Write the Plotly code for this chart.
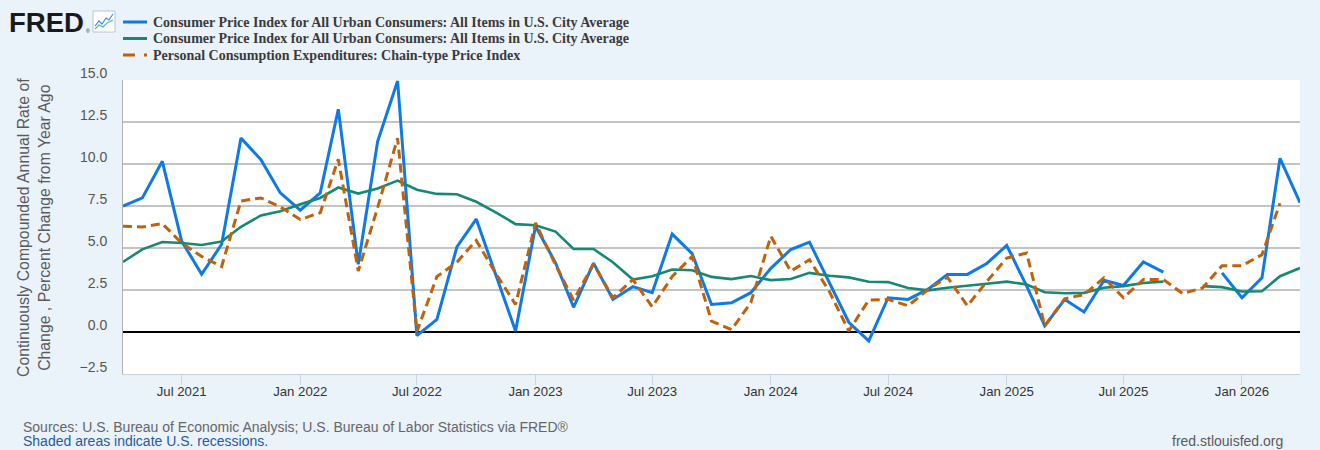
"""FRED-style chart: CPI monthly annualised change, CPI year-over-year, PCE price index."""

import pandas as pd
import plotly.graph_objects as go

W, H = 1320, 450
MARGIN = {"l": 123, "r": 20, "t": 80, "b": 76}

# monthly observations, Apr 2021 .. Apr 2026
months = pd.date_range("2021-04-01", periods=61, freq="MS")

# CPI-U, continuously compounded annual rate of change
cpi_cca = [
    7.49, 7.98, 10.16, 5.41, 3.44, 5.22, 11.54, 10.26, 8.28,
    7.25, 8.28, 13.26, 4.03, 11.34, 14.94, -0.22, 0.75, 5.06, 6.72, 3.40, 0.06,
    6.30, 4.12, 1.47, 4.10, 1.94, 2.70, 2.34, 5.83, 4.66, 1.64, 1.74, 2.34,
    3.79, 4.91, 5.35, 2.90, 0.58, -0.53, 2.04, 1.94, 2.55, 3.43, 3.43, 4.08,
    5.15, 2.73, 0.36, 1.94, 1.19, 3.08, 2.77, 4.17, 3.56, None, None, 3.52,
    2.04, 3.22, 10.34, 7.70,
]

# CPI-U, percent change from year ago
cpi_yoy = [
    4.17, 4.92, 5.36, 5.30, 5.18, 5.38, 6.26, 6.94, 7.19,
    7.61, 7.98, 8.60, 8.24, 8.54, 9.01, 8.47, 8.22, 8.20, 7.75, 7.11, 6.42,
    6.35, 5.98, 4.95, 4.94, 4.15, 3.12, 3.32, 3.72, 3.68, 3.28, 3.15, 3.33,
    3.09, 3.15, 3.52, 3.35, 3.25, 2.99, 2.97, 2.62, 2.48, 2.63, 2.73, 2.87,
    3.00, 2.83, 2.37, 2.31, 2.33, 2.63, 2.73, 2.92, 3.00, None, 2.73, 2.67,
    2.41, 2.43, 3.32, 3.81,
]

# PCE chain-type price index, continuously compounded annual rate of change
pce_cca = [
    6.30, 6.25, 6.45, 5.30, 4.50, 3.90, 7.80, 7.98, 7.45,
    6.70, 7.10, 10.28, 3.63, 7.40, 11.54, 0.02, 3.30, 4.15, 5.45, 3.45, 1.64,
    6.50, 4.00, 1.90, 4.05, 2.04, 3.12, 1.50, 3.30, 4.50, 0.65, 0.14, 1.74,
    5.70, 3.62, 4.30, 2.40, 0.06, 1.90, 1.94, 1.56, 2.53, 3.26, 1.56, 3.00,
    4.40, 4.70, 0.36, 1.98, 2.23, 3.22, 2.04, 3.12, 3.12, 2.29, 2.63, 3.95,
    3.95, 4.60, 7.67, None,
]

series_names = [
    "Consumer Price Index for All Urban Consumers: All Items in U.S. City Average",
    "Consumer Price Index for All Urban Consumers: All Items in U.S. City Average",
    "Personal Consumption Expenditures: Chain-type Price Index",
]

BLUE = "#0f7ae5"
GREEN = "#168874"
ORANGE = "#c0620c"
BG = "#eaf2fa"
GRID = "#c4c4c4"
PCE_DASH = "9px,5px"

plot_w = W - MARGIN["l"] - MARGIN["r"]
plot_h = H - MARGIN["t"] - MARGIN["b"]


def px(x):
    """Pixel column -> paper x."""
    return (x - MARGIN["l"]) / plot_w


def py(y):
    """Pixel row -> paper y."""
    return (H - MARGIN["b"] - y) / plot_h


fig = go.Figure()
fig.add_trace(go.Scatter(
    x=months, y=cpi_cca, mode="lines", name=series_names[0],
    line={"color": BLUE, "width": 3}, connectgaps=False,
))
fig.add_trace(go.Scatter(
    x=months, y=cpi_yoy, mode="lines", name=series_names[1],
    line={"color": GREEN, "width": 2.6}, connectgaps=False,
))
fig.add_trace(go.Scatter(
    x=months, y=pce_cca, mode="lines", name=series_names[2],
    line={"color": ORANGE, "width": 3, "dash": PCE_DASH}, connectgaps=False,
))

# hand-made legend (FRED places it beside the logo)
shapes = []
annotations = []
legend_rows = [22, 38.5, 55]
legend_styles = [
    {"color": BLUE, "width": 3},
    {"color": GREEN, "width": 3},
    {"color": ORANGE, "width": 3, "dash": "12px,9px"},
]
for name, row, style in zip(series_names, legend_rows, legend_styles):
    shapes.append(dict(
        type="line", xref="paper", yref="paper",
        x0=px(123), x1=px(147), y0=py(row), y1=py(row), line=style,
    ))
    annotations.append(dict(
        text=f"<b>{name}</b>", xref="paper", yref="paper",
        x=px(151), y=py(row), xanchor="left", yanchor="middle", showarrow=False,
        font={"family": "Liberation Serif", "size": 14, "color": "#3a3a3a"},
    ))

# FRED logo
annotations.append(dict(
    text="<b>FRED</b>", xref="paper", yref="paper",
    x=px(7), y=py(22), xanchor="left", yanchor="middle", showarrow=False,
    font={"family": "Liberation Sans", "size": 27.5, "color": "#1a1a1a"},
))
annotations.append(dict(
    text="®", xref="paper", yref="paper",
    x=px(84), y=py(31), xanchor="left", yanchor="middle", showarrow=False,
    font={"family": "Liberation Sans", "size": 5, "color": "#1a1a1a"},
))
shapes.append(dict(
    type="rect", xref="paper", yref="paper",
    x0=px(93), x1=px(115), y0=py(32), y1=py(11),
    line={"color": "#b9c6d3", "width": 1}, fillcolor="#ffffff",
))
shapes.append(dict(
    type="path", xref="paper", yref="paper",
    path=(f"M {px(95)} {py(26)} L {px(99)} {py(21)} L {px(102)} {py(24)} "
          f"L {px(106)} {py(18)} L {px(109)} {py(20)} L {px(113)} {py(14)}"),
    line={"color": "#3d8ee8", "width": 1.2},
))
shapes.append(dict(
    type="path", xref="paper", yref="paper",
    path=(f"M {px(95)} {py(29)} L {px(99)} {py(25)} L {px(103)} {py(27)} "
          f"L {px(107)} {py(23)} L {px(113)} {py(20)}"),
    line={"color": "#5cb8a6", "width": 1.2},
))

# y-axis title, two lines
annotations.append(dict(
    text="Continuously Compounded Annual Rate of<br>Change , Percent Change from Year Ago",
    xref="paper", yref="paper", x=px(34), y=py(228),
    xanchor="center", yanchor="middle", textangle=-90, showarrow=False,
    font={"family": "Liberation Sans", "size": 15.8, "color": "#5a5a5a"},
))

# footer
annotations.append(dict(
    text="Sources: U.S. Bureau of Economic Analysis; U.S. Bureau of Labor Statistics via FRED®",
    xref="paper", yref="paper", x=px(21), y=py(427),
    xanchor="left", yanchor="middle", showarrow=False,
    font={"family": "Liberation Sans", "size": 14, "color": "#666666"},
))
annotations.append(dict(
    text="Shaded areas indicate U.S. recessions.",
    xref="paper", yref="paper", x=px(21), y=py(441),
    xanchor="left", yanchor="middle", showarrow=False,
    font={"family": "Liberation Sans", "size": 14, "color": "#2a5a9a"},
))
annotations.append(dict(
    text="fred.stlouisfed.org",
    xref="paper", yref="paper", x=px(1285), y=py(441),
    xanchor="right", yanchor="middle", showarrow=False,
    font={"family": "Liberation Sans", "size": 14, "color": "#5a5a5a"},
))

fig.update_layout(
    width=W, height=H, margin=MARGIN,
    paper_bgcolor=BG, plot_bgcolor="#ffffff",
    showlegend=False,
    font={"family": "Liberation Sans", "size": 13, "color": "#333333"},
    shapes=shapes, annotations=annotations,
    hovermode=False,
)
fig.update_xaxes(
    type="date", range=["2021-04-01", "2026-04-01"],
    tick0="2021-07-01", dtick="M6", tickformat="%b %Y",
    showgrid=False, ticks="outside", ticklen=10, tickcolor="#c8d6e4", tickwidth=1,
    showline=True, linecolor="#c8d0da", linewidth=1,
    ticklabelstandoff=-5,
    tickfont={"size": 13.2, "color": "#333333"},
)
fig.update_yaxes(
    range=[-2.5, 15], dtick=2.5, tick0=0, tickformat=".1f",
    showgrid=True, gridcolor=GRID, gridwidth=1.5,
    zeroline=True, zerolinecolor="#000000", zerolinewidth=2,
    showline=True, linecolor="#b0b0b0", linewidth=1,
    ticks="", ticklabelstandoff=12, ticklabelshift=-7,
    tickfont={"size": 14, "color": "#555555"},
)

fig.write_html(
    "out.html",
    config={"displayModeBar": False},
    post_script="document.body.style.margin='0';",
)
